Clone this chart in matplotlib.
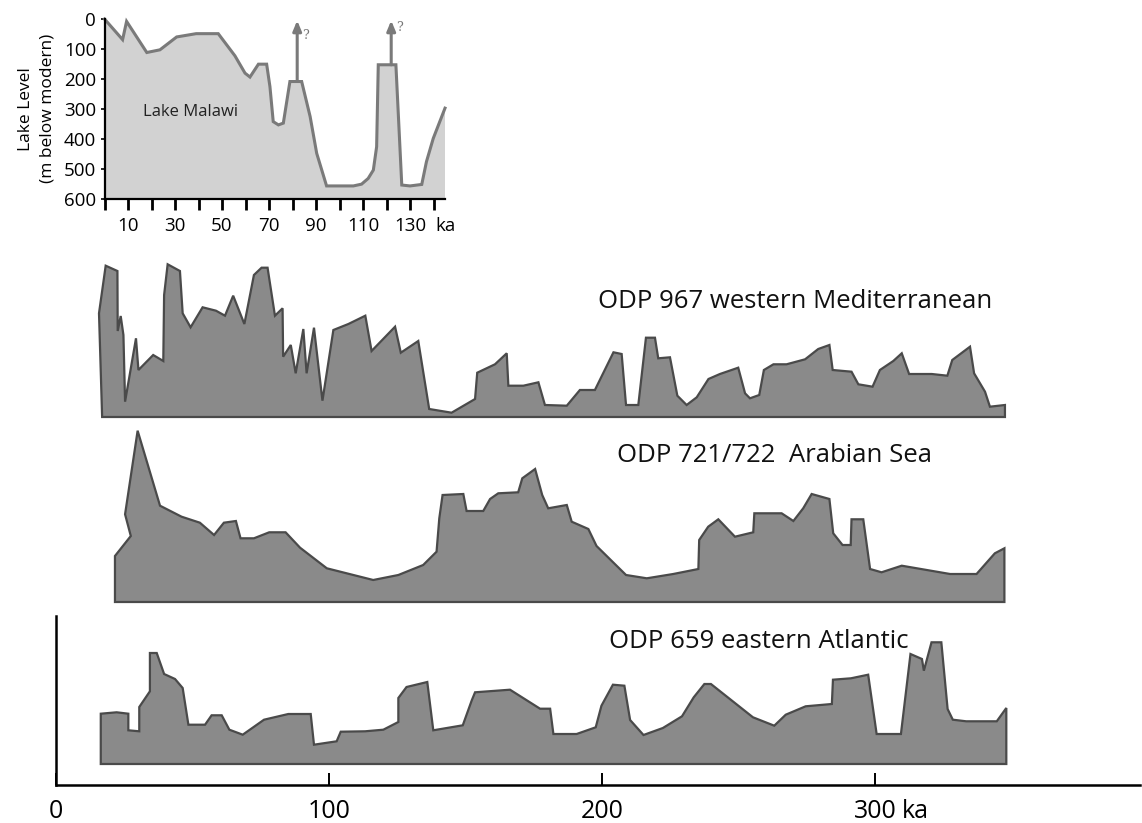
import matplotlib
matplotlib.use("Agg")
import matplotlib.pyplot as plt
import numpy as np

plt.rcParams['font.family'] = ['Open Sans', 'DejaVu Sans']

# ---------------- data ----------------
# Lake Malawi lake level (ka, m below modern)
malawi_ka = [0, 7.7, 9.4, 18, 23.6, 30.7, 39, 48.4, 55.5, 59.8, 61.9, 65.5, 69, 70.4,
             71.8, 74, 76.1, 78.9, 83.9, 87.5, 90.3, 94.5, 105.9, 109.4, 112.2, 114.4,
             115.8, 116.5, 124, 126.5, 130, 135, 137, 139.9, 144.9]
malawi_level = [0, 69, 8, 112, 103, 60, 49, 49, 123, 181, 194, 151, 151, 226,
                343, 354, 348, 209, 209, 326, 449, 558, 558, 552, 533, 505,
                427, 153, 153, 555, 558, 553, 477, 399, 298]
malawi_xticks = [10, 30, 50, 70, 90, 110, 130]
malawi_yticks = [0, 100, 200, 300, 400, 500, 600]
arrow_ka = [82, 122]
arrow_from = [209, 153]

# ODP 967 western Mediterranean (ka, relative amplitude)
med_ka = [16.9, 15.75, 18.2, 22.5, 22.6, 23.7, 24.7, 25.3, 29.3, 30.2, 35.6, 39.3, 39.6,
          40.9, 45.4, 46.4, 49.3, 53.7, 58.6, 61.9, 64.9, 69.0, 72.5, 75.3, 77.5, 80.2,
          83.0, 83.2, 86.0, 87.8, 90.6, 91.8, 94.5, 97.6, 101.6, 107.1, 113.3, 115.6,
          124.2, 126.3, 132.7, 136.7, 144.9, 153.5, 154.3, 160.8, 165.1, 165.7, 171.2,
          176.7, 179.1, 187.1, 191.9, 197.4, 204.2, 207.2, 208.8, 213.3, 216.1, 219.4,
          220.6, 224.9, 227.6, 231.0, 234.7, 239.0, 243.2, 249.9, 252.4, 254.2, 257.6,
          259.3, 262.8, 267.6, 274.4, 279.2, 283.3, 284.5, 291.4, 293.9, 299.1, 301.8,
          306.7, 309.8, 312.5, 320.8, 326.5, 328.3, 334.8, 336.3, 340.3, 342.1, 347.6, 347.6]
med_val = [0, 103.7, 151.3, 146, 86, 101, 82, 15.3, 78.7, 47, 62, 56, 122,
           152.7, 146, 103.7, 89.7, 109.7, 106.3, 101.3, 121.3, 93, 142, 149.3, 149.3, 101.3,
           108.7, 60.3, 72, 43.7, 88, 43.7, 89.3, 16.3, 87, 93, 101.3, 66,
           90.3, 64.3, 76, 8, 4.3, 18, 44.3, 52.7, 63.7, 31.3, 31.3,
           34.7, 12, 11.3, 27, 27, 64.7, 63, 12, 12, 79.3, 79.3,
           58.7, 59.7, 21.3, 12, 19.7, 38, 43, 49.3, 23.7, 18.7, 22,
           47, 52.7, 52.7, 57.7, 68, 72, 47, 45.3, 32.7, 30.3, 47,
           56, 63.7, 43, 43, 41.3, 57, 70.3, 43.7, 25.3, 10.3, 12, 0]

# ODP 721/722 Arabian Sea
arab_ka = [21.6, 21.6, 27.4, 25.3, 29.9, 38.1, 46.0, 52.7, 57.9, 61.5, 65.9, 67.6, 72.5,
           78.1, 84.1, 89.4, 99.2, 116.2, 125.4, 134.5, 139.4, 140.4, 141.6, 149.2, 150.4,
           156.5, 159.0, 162.0, 169.3, 170.8, 175.5, 178.1, 180.3, 187.1, 188.9, 195.0,
           198.0, 208.8, 216.4, 226.1, 235.3, 235.6, 238.9, 242.6, 248.7, 255.4, 255.8,
           265.8, 270.1, 273.7, 276.8, 283.3, 284.7, 288.1, 291.1, 291.4, 295.7, 298.2,
           302.4, 309.8, 327.5, 337.2, 343.9, 347.4, 347.4]
arab_val = [0, 46, 66, 87.7, 171.3, 96.3, 85.3, 79.3, 67, 79.3, 81, 63.7, 63.7,
            69.7, 69.7, 54.3, 33.7, 22, 27, 37, 50.3, 83.7, 107, 108, 91,
            91, 103, 108.7, 109.7, 123.7, 133, 107, 93.7, 97, 80.3, 73,
            56, 27, 23.7, 28, 33, 62, 75.3, 82.7, 65.3, 69.7, 88.7,
            88.7, 81, 93.7, 108, 103, 68.7, 57, 57, 82.7, 82.7, 33,
            29.7, 36.3, 28, 28, 48.7, 53.7, 0]

# ODP 659 eastern Atlantic
atl_ka = [16.4, 16.4, 22.2, 26.5, 26.5, 30.5, 30.5, 34.4, 34.4, 36.9, 39.6, 43.6, 46.4,
          48.5, 54.6, 57.0, 60.7, 63.5, 68.4, 76.2, 85.1, 93.3, 94.5, 102.8, 104.3,
          113.2, 119.9, 125.4, 125.4, 128.4, 136.0, 138.2, 149.0, 152.3, 153.5, 166.3,
          177.3, 181.0, 182.2, 190.7, 197.7, 199.8, 204.0, 208.2, 210.3, 215.2, 222.3,
          229.3, 233.6, 237.5, 239.9, 255.3, 263.1, 267.3, 274.6, 284.2, 284.6, 291.2,
          297.5, 299.3, 300.6, 309.5, 313.0, 317.2, 317.9, 320.7, 324.3, 326.6, 328.5,
          333.4, 344.6, 348.1, 348.1]
atl_val = [0, 50.3, 51.7, 50.3, 33.7, 32.7, 57, 72.7, 111, 111, 90, 85, 76,
           39.3, 39.3, 48.7, 48.7, 34.3, 29.3, 44.3, 50, 50, 19.3, 22.7, 32.3,
           32.7, 34.3, 42, 66, 77, 82, 33.7, 38.7, 63.7, 71.7, 74.3,
           55.3, 55.3, 30, 30, 36.7, 58.3, 79.3, 78.3, 44, 29, 36,
           47.7, 66.7, 80, 80, 46.7, 38.3, 49.3, 57.7, 60, 84.3, 85.7,
           89.3, 55, 30, 30, 110, 105, 93.3, 121.7, 121.7, 55, 44.3,
           42.7, 42.7, 56, 0]

series_labels = ["ODP 967 western Mediterranean", "ODP 721/722  Arabian Sea",
                 "ODP 659 eastern Atlantic"]
main_xticks = [0, 100, 200, 300]
main_xticklabels = ["0", "100", "200", "300"]

# ---------------- layout ----------------
W, H = 1142, 823
fig = plt.figure(figsize=(W / 100, H / 100), dpi=100)

PX_PER_KA = 2.73
ax_left_px, ax_right_px = 56, 1140
ax_bottom_px, ax_top_px = 785, 250
ax = fig.add_axes([ax_left_px / W, 1 - ax_bottom_px / H,
                   (ax_right_px - ax_left_px) / W, (ax_bottom_px - ax_top_px) / H])
ax.set_xlim(0, (ax_right_px - ax_left_px) / PX_PER_KA)
ax.set_ylim(0, ax_bottom_px - ax_top_px)

bases = [368, 183, 21]
label_pos = [(198.5, 484), (205.5, 329), (202.6, 143)]
fill_c = '#8a8a8a'
edge_c = '#4a4a4a'
for (xs, vs), base, lab, (lx, ly) in zip(
        [(med_ka, med_val), (arab_ka, arab_val), (atl_ka, atl_val)],
        bases, series_labels, label_pos):
    xs = np.asarray(xs, float)
    ys = np.asarray(vs, float) + base
    ax.fill(xs, ys, facecolor=fill_c, edgecolor=edge_c, linewidth=1.6,
            joinstyle='miter')
    ax.text(lx, ly, lab, fontsize=18.5, ha='left', va='center', color='#111111')

for s in ['top', 'right']:
    ax.spines[s].set_visible(False)
ax.spines['left'].set_bounds(0, 169)
ax.spines['left'].set_linewidth(1.8)
ax.spines['bottom'].set_linewidth(1.8)
ax.set_yticks([])
ax.set_xticks(main_xticks)
ax.set_xticklabels(main_xticklabels)
ax.tick_params(axis='x', direction='in', length=9, width=1.4, pad=10,
               labelsize=18, colors='black')
fig.canvas.draw()
lab300 = ax.get_xticklabels()[-1]
ax.annotate("ka", xy=(1, 0), xycoords=lab300, xytext=(4, 0),
            textcoords='offset points', fontsize=18, ha='left', va='bottom')

# ---------------- inset ----------------
in_left, in_right = 104.5, 445
in_top, in_bottom = 19, 198.5
KA_MAX = (in_right - in_left) / 2.35
axi = fig.add_axes([in_left / W, 1 - in_bottom / H,
                    (in_right - in_left) / W, (in_bottom - in_top) / H])
axi.set_xlim(0, KA_MAX)
axi.set_ylim(600, 0)
axi.fill_between(malawi_ka, malawi_level, 600, facecolor='#d2d2d2',
                 edgecolor='none')
axi.plot(malawi_ka, malawi_level, color='#7a7a7a', lw=2.2, solid_joinstyle='miter',
         clip_on=False)
for xa, y0 in zip(arrow_ka, arrow_from):
    axi.annotate("", xy=(xa, 5), xytext=(xa, y0),
                 arrowprops=dict(arrowstyle='-|>,head_length=0.6,head_width=0.25',
                                 color='#7a7a7a', lw=2.2, shrinkA=0, shrinkB=0))
    axi.text(xa + 3.5, 55 if xa < 100 else 30, "?", fontsize=9, color='#777777',
             family='DejaVu Serif', ha='center', va='center')
axi.text(36.4, 311, "Lake Malawi", fontsize=12, ha='center', va='center', color='#222222')

for s in ['top', 'right']:
    axi.spines[s].set_visible(False)
axi.spines['left'].set_linewidth(1.6)
axi.spines['bottom'].set_linewidth(1.6)
axi.spines['left'].set_bounds(600, 0)
axi.set_xticks(np.arange(0, 141, 10), minor=True)
axi.set_xticks(malawi_xticks)
axi.set_xticklabels([str(t) for t in malawi_xticks])
axi.tick_params(axis='x', which='both', direction='out', length=8, width=2,
                labelsize=13.5, pad=5)
axi.set_yticks(malawi_yticks)
axi.set_yticklabels([str(t) for t in malawi_yticks])
axi.tick_params(axis='y', direction='out', length=3, width=1.2, labelsize=13.5, pad=3)
fig.canvas.draw()
lab130 = axi.get_xticklabels()[-1]
axi.annotate("ka", xy=(1, 0), xycoords=lab130, xytext=(7, 0),
             textcoords='offset points', fontsize=13.5, ha='left', va='bottom')
axi.set_ylabel("Lake Level\n(m below modern)", fontsize=12.5, labelpad=6,
               linespacing=1.45)

fig.savefig("out.png", dpi=100)
